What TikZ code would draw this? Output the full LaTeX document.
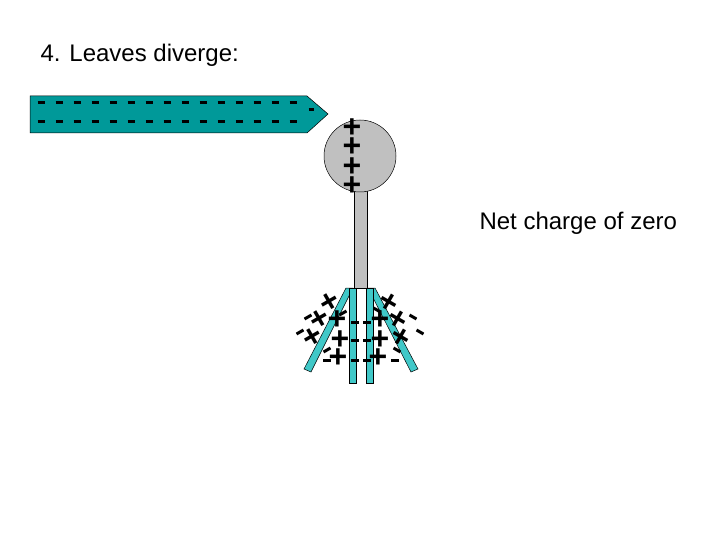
\documentclass[tikz,border=0pt]{standalone}
\usepackage{fontspec}
\setmainfont{Liberation Sans}
\definecolor{rodc}{RGB}{0,153,153}
\definecolor{leafc}{RGB}{64,200,200}
\definecolor{ballc}{RGB}{192,192,192}
\begin{document}
\begin{tikzpicture}[x=1pt,y=-1pt,
  lbl/.style={font=\fontsize{24}{28}\selectfont,anchor=west},
  ch/.style={font=\fontsize{32}{32}\selectfont\bfseries,inner sep=0pt},
  mn/.style={inner sep=0pt},
  leaf/.style={fill=leafc,draw=black,line width=0.5pt}]
\useasboundingbox (0,0) rectangle (720,540);
\node[lbl] (title) at (37,55) {4. Leaves diverge:};
\node[lbl] (net) at (476,223) {Net charge of zero};
\path[fill=rodc,draw=black,line width=0.5pt] (30,96) -- (307,96) -- (328,114) -- (307,133) -- (30,133) -- cycle;
\foreach \i in {0,...,14}{
  \node[mn] (ma\i) at (41+18*\i,103) {\rule{7pt}{3pt}};
  \node[mn] (mb\i) at (41+18*\i,122) {\rule{7pt}{3pt}};}
\node[mn] (mc) at (311,110) {\rule{5pt}{3pt}};
\path[fill=ballc,draw=black,line width=0.5pt] (354,190) rectangle (367,288);
\node[circle,fill=ballc,draw=black,line width=0.5pt,minimum size=72pt,inner sep=0pt] (ball) at (360,156) {};
\foreach \y [count=\k] in {128,147,167,186} \node[ch] (p\k) at (352,\y) {+};
\path[leaf] (346,288) -- (353,288) -- (311,372) -- (304,369) -- cycle;
\path[leaf] (368,288) -- (375,288) -- (418,369) -- (411,372) -- cycle;
\path[leaf] (349,288) rectangle (356,383);
\path[leaf] (366,288) rectangle (373,383);
\foreach \x/\y/\r [count=\k] in {330/303/30,320/320/30,337/320/0,313/338/30,340/340/0,338/358/0,388/303/-30,380/320/0,397/320/-30,380/340/0,400/338/-30,378/358/0}
  \node[ch,rotate=\r] (lp\k) at (\x,\y) {+};
\foreach \x/\y/\r [count=\k] in {308/317/30,300/332/30,327/350/30,343/313/30,355/322/0,355/340/0,355/360/0,327/360/0,367/322/0,367/340/0,367/360/0,395/360/0,413/317/-30,420/332/-30,397/350/-30,377/310/-30}
  \node[mn,rotate=\r] (lm\k) at (\x,\y) {\rule{8pt}{3pt}};
\end{tikzpicture}
\end{document}
